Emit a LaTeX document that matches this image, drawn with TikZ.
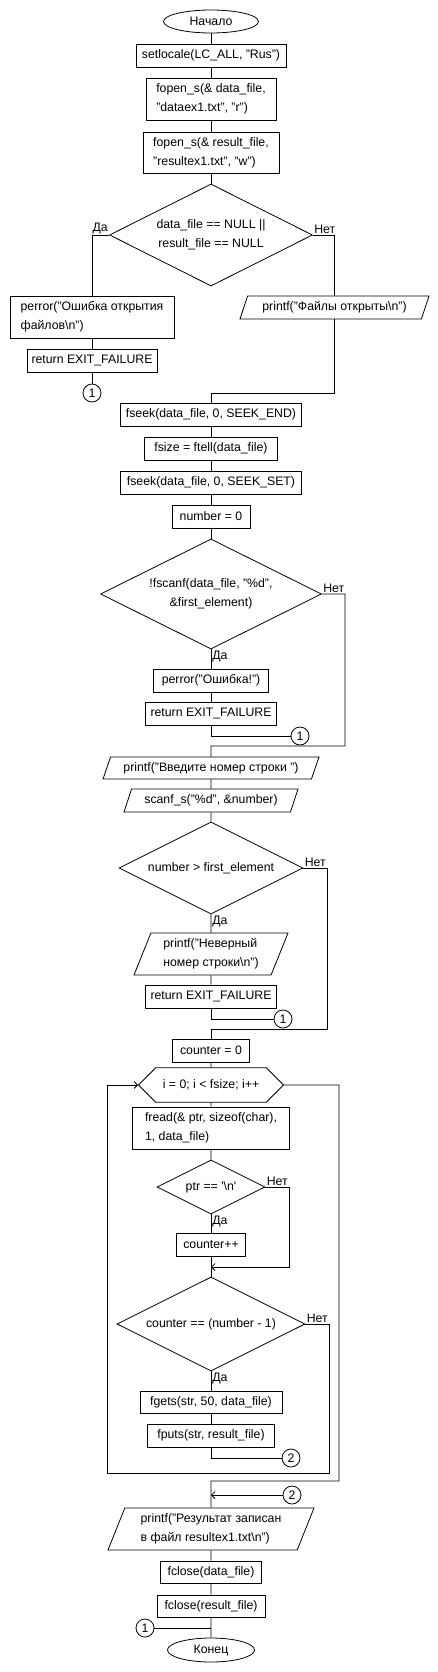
\documentclass[tikz,border=0pt]{standalone}
\usepackage{fontspec}
\setmainfont{Liberation Sans}
\usepackage{tikz}
\usetikzlibrary{shapes.geometric}
\usetikzlibrary{shapes.misc}
\usetikzlibrary{arrows.meta}
\usetikzlibrary{positioning}

\tikzset{
	blk/.style={draw,rectangle,minimum height=23pt,inner sep=2pt},
	term/.style={draw,ellipse,minimum height=23pt,inner sep=0pt},
	io/.style={draw,trapezium,trapezium left angle=64,trapezium right angle=116,trapezium stretches body,minimum height=23pt,inner sep=2pt},
	dec/.style={draw,diamond,aspect=2,inner sep=0pt,align=center},
	loopbox/.style={draw,chamfered rectangle,chamfered rectangle xsep=13pt,chamfered rectangle ysep=12pt,minimum height=24pt,inner sep=0pt},
	conn/.style={draw,circle,minimum size=18pt,inner sep=0pt},
	arr/.style={-{Straight Barb[length=3.5pt,width=7pt]}}
}

\begin{document}
\begin{tikzpicture}[x=1pt,y=-1pt,line width=0.8pt,font=\fontsize{12.3}{19}\selectfont]
	\useasboundingbox (0,0) rectangle (438,1672);
	
	% opening the files
	\node [term,minimum width=95pt] (start) at (211,21.5) {Начало};
	\node [blk,minimum width=150pt] (setloc) at (211,55.5) {setlocale(LC\_ALL, "Rus")};
	\node [blk,minimum width=130pt,minimum height=42pt,align=left] (open1) at (211,99) {fopen\_s(\& data\_file,\\"dataex1.txt", "r")};
	\node [blk,minimum width=136pt,minimum height=41pt,align=left] (open2) at (211,152.5) {fopen\_s(\& result\_file,\\"resultex1.txt", "w")};
	\node [dec,minimum width=203pt,minimum height=102pt] (chk1) at (211,235) {data\_file == NULL ||\\result\_file == NULL};
	\node [above left,inner sep=1pt] at (chk1.west) {Да};
	\node [above right,inner sep=1pt] at (chk1.east) {Нет};
	
	\node [blk,minimum width=164pt,minimum height=42pt,align=left] (err1) at (92,317) {perror("Ошибка открытия\\файлов\textbackslash n")};
	\node [blk,minimum width=130pt] (ret1) at (92,360.5) {return EXIT\_FAILURE};
	\node [conn] (con1a) at (92,393) {1};
	\node [io,minimum width=189pt] (opened) at (334.5,307.5) {printf("Файлы открыты\textbackslash n")};
	
	% size of the file
	\node [blk,minimum width=181pt] (fseek1) at (211,414.5) {fseek(data\_file, 0, SEEK\_END)};
	\node [blk,minimum width=133pt] (fsize) at (211,448.5) {fsize = ftell(data\_file)};
	\node [blk,minimum width=181pt] (fseek2) at (211,482.5) {fseek(data\_file, 0, SEEK\_SET)};
	\node [blk,minimum width=78pt] (num0) at (211,516.5) {number = 0};
	\node [dec,minimum width=221pt,minimum height=110pt] (chk2) at (211,594) {!fscanf(data\_file, "\%d",\\\&first\_element)};
	\node [below right,inner sep=1pt] at (chk2.south) {Да};
	\node [above right,inner sep=1pt] at (chk2.east) {Нет};
	\node [blk,minimum width=115pt] (err2) at (211,680.5) {perror("Ошибка!")};
	\node [blk,minimum width=131pt] (ret2) at (211,713.5) {return EXIT\_FAILURE};
	\node [conn] (con1b) at (300,736) {1};
	
	% line number
	\node [io,minimum width=216pt,minimum height=22pt] (ask) at (211,768) {printf("Введите номер строки ")};
	\node [io,minimum width=174pt] (scan) at (211,800.5) {scanf\_s("\%d", \&number)};
	\node [dec,minimum width=184pt,minimum height=92pt] (chk3) at (211,868) {number > first\_element};
	\node [below right,inner sep=1pt] at (chk3.south) {Да};
	\node [above right,inner sep=1pt] at (chk3.east) {Нет};
	\node [io,minimum width=154pt,minimum height=42pt,align=left] (wrong) at (211,954) {printf("Неверный\\номер строки\textbackslash n")};
	\node [blk,minimum width=131pt] (ret3) at (211,996.5) {return EXIT\_FAILURE};
	\node [conn] (con1c) at (283,1019) {1};
	
	% loop over the file
	\node [blk,minimum width=77pt] (cnt0) at (211,1050.5) {counter = 0};
	\node [loopbox,minimum width=145pt] (loop) at (211,1085) {i = 0; i < fsize; i++};
	\node [blk,minimum width=157pt,minimum height=42pt,align=left] (fread) at (211,1128) {fread(\& ptr, sizeof(char),\\1, data\_file)};
	\node [dec,minimum width=108pt,minimum height=54pt] (chk4) at (211,1187) {ptr == \textquotesingle\textbackslash n\textquotesingle};
	\node [below right,inner sep=1pt] at (chk4.south) {Да};
	\node [above right,inner sep=1pt] at (chk4.east) {Нет};
	\node [blk,minimum width=69pt] (inc) at (211,1244.5) {counter++};
	\node [dec,minimum width=188pt,minimum height=94pt] (chk5) at (211,1324) {counter == (number - 1)};
	\node [below right,inner sep=1pt] at (chk5.south) {Да};
	\node [above right,inner sep=1pt] at (chk5.east) {Нет};
	\node [blk,minimum width=142pt,minimum height=22pt] (gets) at (211,1402) {fgets(str, 50, data\_file)};
	\node [blk,minimum width=127pt] (puts) at (211,1435.5) {fputs(str, result\_file)};
	\node [conn] (con2a) at (291,1458) {2};
	
	% closing
	\node [conn] (con2b) at (292,1495) {2};
	\node [io,minimum width=206pt,minimum height=42pt,align=left] (res) at (211,1529) {printf("Результат записан\\в файл resultex1.txt\textbackslash n")};
	\node [blk,minimum width=101pt,minimum height=22pt] (close1) at (211,1572) {fclose(data\_file)};
	\node [blk,minimum width=108pt,minimum height=22pt] (close2) at (211,1606) {fclose(result\_file)};
	\node [conn] (con1d) at (145,1628) {1};
	\node [term,minimum width=87pt,minimum height=24pt] (stop) at (211,1650) {Конец};
	
	\coordinate (j1) at (211,393);
	\coordinate (c2r) at (345,746);
	\coordinate (j2) at (211,746);
	\coordinate (c3r) at (327,1029);
	\coordinate (j3) at (211,1029);
	\coordinate (c4r) at (289,1267);
	\coordinate (j4) at (211,1267);
	\coordinate (c5r) at (329,1473);
	\coordinate (lpb) at (107,1473);
	\coordinate (lpx) at (339,1481);
	\coordinate (j6) at (211,1481);
	\coordinate (j7) at (211,1495);
	\coordinate (j8) at (211,1628);
	
	\draw (start) -- (setloc) -- (open1) -- (open2) -- (chk1);
	\draw (chk1.west) -| (err1.north);
	\draw (err1) -- (ret1) -- (con1a);
	\draw (chk1.east) -| (opened.north);
	\draw (opened.south) |- (j1) -- (fseek1);
	\draw (fseek1) -- (fsize) -- (fseek2) -- (num0) -- (chk2);
	\draw (chk2.south) -- (err2) -- (ret2);
	\draw (ret2.south) |- (con1b);
	\draw (chk2.east) -| (c2r) -- (j2) -- (ask.north);
	\draw (ask) -- (scan) -- (chk3);
	\draw (chk3.south) -- (wrong) -- (ret3);
	\draw (ret3.south) |- (con1c);
	\draw (chk3.east) -| (c3r) -- (j3) -- (cnt0);
	\draw (cnt0) -- (loop) -- (fread) -- (chk4);
	\draw (chk4.south) -- (inc) -- (chk5);
	\draw [arr] (chk4.east) -| (c4r) -- (j4);
	\draw (chk5.south) -- (gets) -- (puts);
	\draw (puts.south) |- (con2a);
	\draw [arr] (chk5.east) -| (c5r) -- (lpb) |- (loop.west);
	\draw (loop.east) -| (lpx) -- (j6) -- (res.north);
	\draw [arr] (con2b) -- (j7);
	\draw (res) -- (close1) -- (close2) -- (stop);
	\draw (con1d) -- (j8);
	
\end{tikzpicture}
\end{document}
